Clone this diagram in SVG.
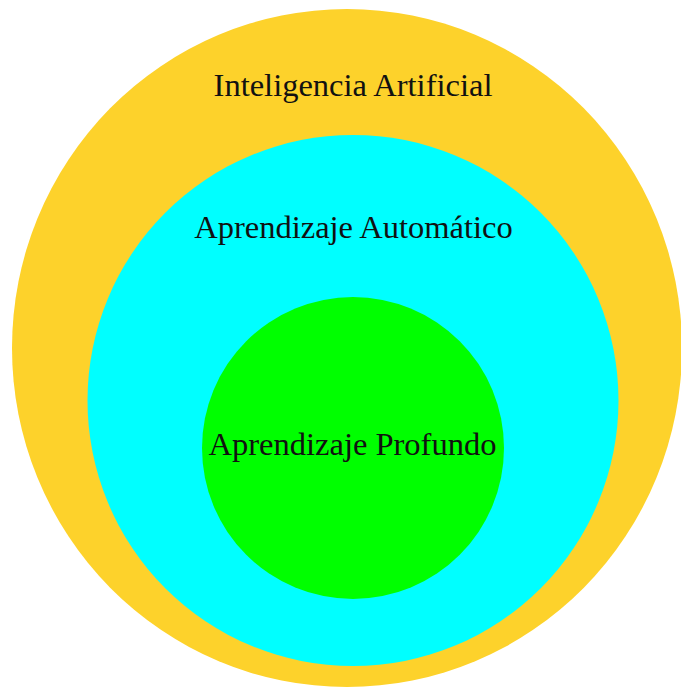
<svg xmlns="http://www.w3.org/2000/svg" width="681" height="688" viewBox="0 0 681 688">
  <style>
    .label { font-family: "Liberation Serif", "Times New Roman", serif; font-size: 32.5px; fill: #111111; text-anchor: middle; }
  </style>
  <rect x="0" y="0" width="681" height="688" fill="#ffffff"/>
  <g id="inteligencia-artificial">
    <ellipse cx="347" cy="348" rx="335" ry="339" fill="#FDD22B"/>
    <text class="label" x="353" y="96">Inteligencia Artificial</text>
  </g>
  <g id="aprendizaje-automatico">
    <circle cx="353" cy="400.5" r="265.5" fill="#00FFFF"/>
    <text class="label" x="353.5" y="238">Aprendizaje Automático</text>
  </g>
  <g id="aprendizaje-profundo">
    <circle cx="353" cy="448" r="151" fill="#00FF00"/>
    <text class="label" x="352.5" y="455">Aprendizaje Profundo</text>
  </g>
  <g id="connectors"/>
</svg>
